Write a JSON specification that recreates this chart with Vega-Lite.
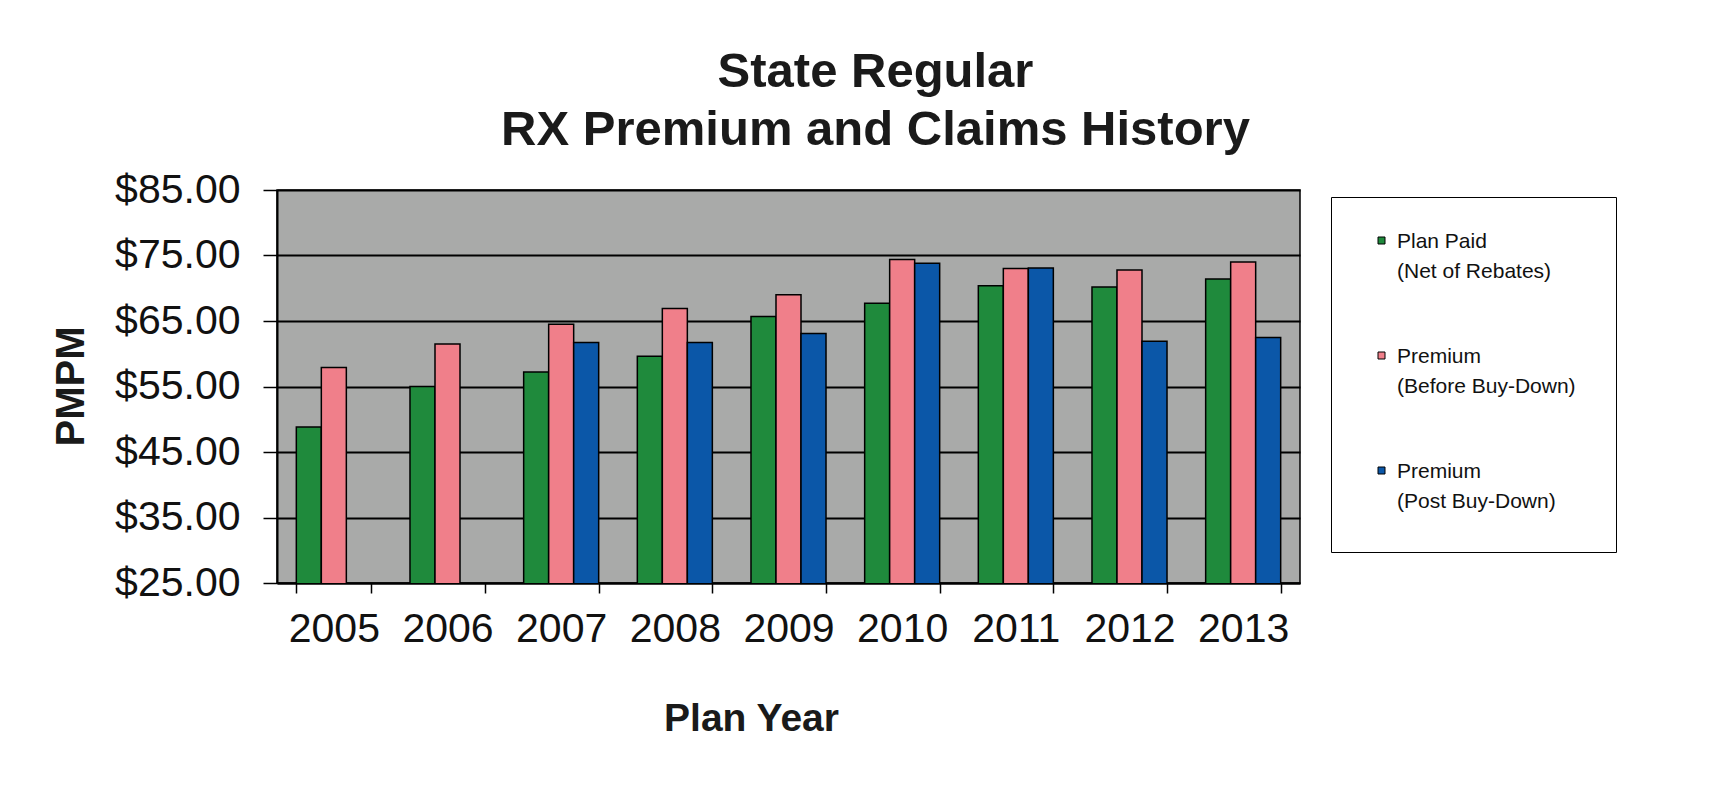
{
  "$schema": "https://vega.github.io/schema/vega-lite/v6.json",
  "width": 1023,
  "height": 393,
  "autosize": {"type": "none"},
  "padding": {"left": 277, "top": 190, "right": 409, "bottom": 205},
  "background": "white",
  "title": {
    "text": ["State Regular", "RX Premium and Claims History"],
    "anchor": "middle",
    "frame": "group",
    "dx": 87,
    "offset": 14,
    "font": "Liberation Sans",
    "fontSize": 49,
    "fontWeight": "bold",
    "lineHeight": 58,
    "color": "#1a1a1a"
  },
  "data": {
    "values": [
      {"year": "2005", "series": "Plan Paid (Net of Rebates)", "value": 48.8},
      {"year": "2005", "series": "Premium (Before Buy-Down)", "value": 57.9},
      {"year": "2006", "series": "Plan Paid (Net of Rebates)", "value": 55.0},
      {"year": "2006", "series": "Premium (Before Buy-Down)", "value": 61.5},
      {"year": "2007", "series": "Plan Paid (Net of Rebates)", "value": 57.2},
      {"year": "2007", "series": "Premium (Before Buy-Down)", "value": 64.5},
      {"year": "2007", "series": "Premium (Post Buy-Down)", "value": 61.7},
      {"year": "2008", "series": "Plan Paid (Net of Rebates)", "value": 59.6},
      {"year": "2008", "series": "Premium (Before Buy-Down)", "value": 66.9},
      {"year": "2008", "series": "Premium (Post Buy-Down)", "value": 61.7},
      {"year": "2009", "series": "Plan Paid (Net of Rebates)", "value": 65.7},
      {"year": "2009", "series": "Premium (Before Buy-Down)", "value": 69.0},
      {"year": "2009", "series": "Premium (Post Buy-Down)", "value": 63.1},
      {"year": "2010", "series": "Plan Paid (Net of Rebates)", "value": 67.7},
      {"year": "2010", "series": "Premium (Before Buy-Down)", "value": 74.4},
      {"year": "2010", "series": "Premium (Post Buy-Down)", "value": 73.8},
      {"year": "2011", "series": "Plan Paid (Net of Rebates)", "value": 70.4},
      {"year": "2011", "series": "Premium (Before Buy-Down)", "value": 73.0},
      {"year": "2011", "series": "Premium (Post Buy-Down)", "value": 73.1},
      {"year": "2012", "series": "Plan Paid (Net of Rebates)", "value": 70.2},
      {"year": "2012", "series": "Premium (Before Buy-Down)", "value": 72.8},
      {"year": "2012", "series": "Premium (Post Buy-Down)", "value": 61.9},
      {"year": "2013", "series": "Plan Paid (Net of Rebates)", "value": 71.4},
      {"year": "2013", "series": "Premium (Before Buy-Down)", "value": 74.0},
      {"year": "2013", "series": "Premium (Post Buy-Down)", "value": 62.5}
    ]
  },
  "mark": {"type": "bar", "stroke": "black", "strokeWidth": 1.5, "clip": true},
  "encoding": {
    "x": {
      "field": "year",
      "type": "nominal",
      "scale": {"paddingInner": 0.34, "paddingOuter": 0.17},
      "axis": {
        "title": "Plan Year",
        "labelFont": "Liberation Sans",
        "labelFontSize": 41,
        "labelColor": "#111111",
        "labelAngle": 0,
        "labelPadding": 16,
        "tickBand": "extent",
        "ticks": true,
        "tickSize": 10,
        "tickColor": "black",
        "tickWidth": 1.5,
        "domainColor": "black",
        "domainWidth": 2,
        "grid": false,
        "titleFont": "Liberation Sans",
        "titleFontSize": 39,
        "titleFontWeight": "bold",
        "titleColor": "#1a1a1a",
        "titleX": 474,
        "titleY": 147,
        "titleBaseline": "alphabetic",
        "titleAlign": "center"
      }
    },
    "xOffset": {
      "field": "series",
      "type": "nominal",
      "scale": {"domain": ["Plan Paid (Net of Rebates)", "Premium (Before Buy-Down)", "Premium (Post Buy-Down)"], "paddingInner": 0, "paddingOuter": 0}
    },
    "y": {
      "field": "value",
      "type": "quantitative",
      "scale": {"domain": [25, 85], "zero": false, "nice": false},
      "axis": {
        "title": "PMPM",
        "values": [25, 35, 45, 55, 65, 75, 85],
        "format": "$.2f",
        "labelFont": "Liberation Sans",
        "labelFontSize": 41,
        "labelColor": "#111111",
        "labelPadding": 23,
        "labelFlush": false,
        "labelOverlap": false,
        "labelBound": false,
        "tickSize": 14,
        "tickColor": "black",
        "tickWidth": 1.5,
        "domainColor": "black",
        "domainWidth": 2,
        "grid": true,
        "gridColor": "black",
        "gridWidth": 2,
        "gridOpacity": 1,
        "titleFont": "Liberation Sans",
        "titleFontSize": 40,
        "titleFontWeight": "bold",
        "titleColor": "#1a1a1a",
        "titleX": -194,
        "titleY": 196,
        "titleAngle": -90,
        "titleBaseline": "alphabetic",
        "titleAlign": "center"
      }
    },
    "color": {
      "field": "series",
      "type": "nominal",
      "scale": {
        "domain": ["Plan Paid (Net of Rebates)", "Premium (Before Buy-Down)", "Premium (Post Buy-Down)"],
        "range": ["#1f8a3c", "#f07f8a", "#0b57a8"]
      },
      "legend": {
        "title": null,
        "orient": "none",
        "legendX": 1054,
        "legendY": 7,
        "direction": "vertical",
        "fillColor": "white",
        "strokeColor": "black",
        "padding": 40,
        "symbolType": "M-1,-3H1V-1H-1Z",
        "symbolSize": 49,
        "symbolStrokeColor": "black",
        "symbolStrokeWidth": 1,
        "labelFont": "Liberation Sans",
        "labelFontSize": 21,
        "labelColor": "#111111",
        "labelLimit": 400,
        "labelOffset": 5,
        "labelBaseline": "alphabetic",
        "rowPadding": 63,
        "labelExpr": "[split(datum.label, ' (')[0], '\u00a0\u00a0(' + split(datum.label, ' (')[1]]"
      }
    }
  },
  "config": {
    "view": {"fill": "#a9aaa9", "stroke": "black", "strokeWidth": 1.5},
    "style": {"guide-label": {"lineHeight": 30}}
  }
}
